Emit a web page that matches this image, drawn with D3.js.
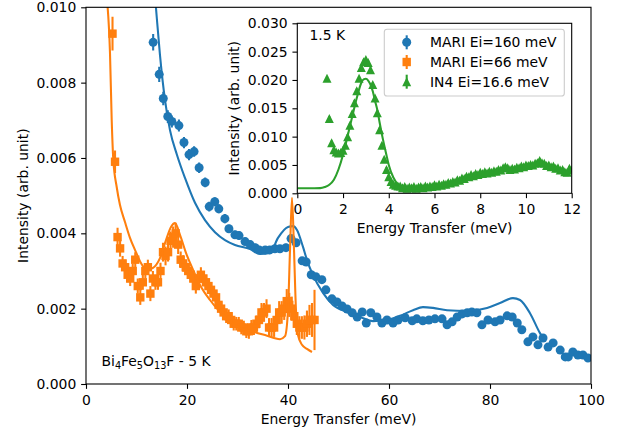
<!DOCTYPE html>
<html><head><meta charset="utf-8">
<script src="https://cdn.jsdelivr.net/npm/d3@7"></script>
<style>body{margin:0;background:#fff;} svg text{font-family:"DejaVu Sans",sans-serif;}</style>
</head><body><svg id="c" width="621" height="433"></svg>
<script>
// ---------------- DATA ----------------
const mainXTicks = [0, 20, 40, 60, 80, 100];
const mainYTicks = [0, 0.002, 0.004, 0.006, 0.008, 0.010];
const insetXTicks = [0, 2, 4, 6, 8, 10, 12];
const insetYTicks = [0, 0.005, 0.010, 0.015, 0.020, 0.025, 0.030];
const legendLabels = ["MARI Ei=160 meV", "MARI Ei=66 meV", "IN4 Ei=16.6 meV"];

const blueE = [13.3,14.5,15.3,16.2,17.0,18.4,19.4,20.4,21.4,22.4,
23.6,24.4,25.5,26.3,27.5,28.3,29.5,30.3,31.5,32.5,
33.5,34.3,35.5,36.4,37.4,38.4,39.6,40.6,41.6,42.8,
43.6,44.6,45.5,46.7,47.5,48.7,49.7,50.7,51.7,52.7,
53.7,54.7,55.5,56.4,57.6,58.6,59.6,60.8,61.8,63.2,
64.6,65.5,66.7,67.9,69.1,70.5,71.5,72.5,73.5,74.5,
75.5,76.4,77.4,78.4,79.6,81.0,82.0,83.4,84.4,85.4,
86.3,87.5,88.5,89.5,90.5,91.5,92.5,93.9,94.9,95.5,
96.4,97.4,98.4,99.4];
const blueI = [0.00907,0.00822,0.00758,0.00710,0.00697,0.00686,0.00641,0.00609,0.00617,0.00574,
0.00535,0.00471,0.00484,0.00465,0.00439,0.00412,0.00396,0.00394,0.00378,0.00370,
0.00362,0.00356,0.00356,0.00356,0.00359,0.00359,0.00362,0.00386,0.00375,0.00327,
0.00324,0.00290,0.00285,0.00277,0.00250,0.00226,0.00218,0.00207,0.00199,0.00189,
0.00178,0.00191,0.00162,0.00189,0.00178,0.00162,0.00170,0.00162,0.00170,0.00176,
0.00168,0.00173,0.00168,0.00170,0.00173,0.00173,0.00157,0.00165,0.00178,0.00186,
0.00189,0.00191,0.00189,0.00157,0.00170,0.00165,0.00170,0.00181,0.00178,0.00162,
0.00144,0.00112,0.00125,0.00104,0.00122,0.00098,0.00109,0.00090,0.00072,0.00072,
0.00085,0.00077,0.00077,0.00069];
const blueErr = [0.00022,0.00020,0.00018,0.00017,0.00016,0.00016,0.00015,0.00015,0.00014,0.00014,
0.00013,0.00013,0.00012,0.00012,0.00012,0.00011,0.00011,0.00011,0.00010,0.00010,
0.00010,0.00010,0.00010,0.00010,0.00010,0.00010,0.00010,0.00010,0.00010,0.00010,
0.00009,0.00009,0.00009,0.00009,0.00009,0.00009,0.00009,0.00009,0.00009,0.00009,
0.00009,0.00009,0.00009,0.00009,0.00009,0.00009,0.00009,0.00009,0.00009,0.00009,
0.00009,0.00009,0.00009,0.00009,0.00009,0.00009,0.00009,0.00009,0.00009,0.00009,
0.00009,0.00009,0.00009,0.00009,0.00009,0.00009,0.00009,0.00009,0.00009,0.00009,
0.00009,0.00009,0.00009,0.00009,0.00009,0.00009,0.00009,0.00009,0.00009,0.00009,
0.00009,0.00009,0.00009,0.00009];
const blueFitE = [13.1,13.86,14.65,15.64,16.63,18.02,19.6,21.58,23.56,25.54,27.52,29.5,32.48,34.46,36.44,38.02,40.0,40.99,41.78,42.97,43.76,44.95,46.93,48.91,51.68,54.26,56.83,59.6,62.18,64.75,66.73,68.71,71.49,75.45,79.41,81.98,84.55,85.94,87.92,89.9,90.5];
const blueFitI = [0.0112,0.00998,0.00873,0.00754,0.00674,0.00608,0.00547,0.00481,0.00435,0.00403,0.00382,0.00369,0.00358,0.00345,0.00348,0.00388,0.00417,0.00419,0.00409,0.00364,0.00329,0.00289,0.00242,0.00210,0.00191,0.00178,0.00167,0.00170,0.00181,0.00196,0.00204,0.00202,0.00196,0.00194,0.00202,0.00215,0.00228,0.00223,0.00188,0.00135,0.00122];

const orangeE = [5.25,5.75,6.25,6.75,7.25,7.75,8.25,8.75,9.25,9.75,
10.25,10.75,11.25,11.75,12.25,12.75,13.25,13.75,14.25,14.75,
15.25,15.75,16.25,16.75,17.25,17.75,18.25,18.75,19.25,19.75,
20.25,20.75,21.25,21.75,22.25,22.75,23.25,23.75,24.25,24.75,
25.25,25.75,26.25,26.75,27.25,27.75,28.25,28.75,29.25,29.75,
30.25,30.75,31.25,31.75,32.25,32.75,33.25,33.75,34.25,34.75,
35.25,35.75,36.25,36.75,37.25,37.75,38.25,38.75,39.25,39.75,
40.25,40.75,41.25,41.75,42.25,42.75,43.25,43.75,44.25,44.75,
45.25];
const orangeI = [0.0093,0.0059,0.0039,0.0036,0.0032,0.0031,0.0029,0.0028,0.0030,0.0033,
0.0026,0.0023,0.0027,0.0030,0.0031,0.0024,0.0028,0.0027,0.0027,0.0030,
0.0035,0.0034,0.0035,0.0038,0.0039,0.0040,0.0037,0.0033,0.0032,0.0031,
0.0030,0.0029,0.0028,0.0026,0.0028,0.0029,0.0028,0.0027,0.0026,0.0025,
0.0024,0.0023,0.0021,0.0020,0.0019,0.0018,0.0018,0.0017,0.0016,0.0016,
0.0016,0.0015,0.0015,0.0014,0.0014,0.0015,0.0015,0.0016,0.0017,0.0019,
0.0019,0.0020,0.0015,0.0015,0.0015,0.0017,0.0019,0.0019,0.0020,0.0022,
0.0021,0.0020,0.0018,0.0016,0.0015,0.0015,0.0015,0.0016,0.0017,0.0017,
0.0017];
const orangeErr = [0.00045,0.00030,0.00025,0.00022,0.00020,0.00020,0.00020,0.00020,0.00020,0.00020,
0.00020,0.00020,0.00020,0.00020,0.00020,0.00020,0.00020,0.00020,0.00020,0.00022,
0.00025,0.00025,0.00025,0.00025,0.00028,0.00028,0.00025,0.00022,0.00022,0.00020,
0.00020,0.00020,0.00020,0.00020,0.00020,0.00020,0.00020,0.00020,0.00020,0.00018,
0.00018,0.00018,0.00018,0.00018,0.00018,0.00018,0.00018,0.00018,0.00018,0.00018,
0.00018,0.00018,0.00018,0.00018,0.00020,0.00020,0.00020,0.00022,0.00022,0.00025,
0.00025,0.00025,0.00025,0.00025,0.00025,0.00028,0.00030,0.00030,0.00030,0.00032,
0.00032,0.00032,0.00030,0.00030,0.00030,0.00030,0.00032,0.00035,0.00040,0.00045,
0.00080];
const orangeFitE = [4.16,4.75,5.09,5.41,6.08,6.73,7.72,8.71,9.7,10.89,12.08,13.27,14.65,15.84,16.83,17.62,18.61,19.8,21.19,22.57,24.55,26.53,28.51,30.5,32.48,34.06,35.45,38.42,39.41,40.0,40.4,40.79,41.19,41.58,41.98,42.77,43.76,44.75];
const orangeFitI = [0.0102,0.00879,0.00701,0.00595,0.00523,0.00475,0.0043,0.00388,0.00356,0.00321,0.00303,0.00308,0.00334,0.00382,0.00417,0.00427,0.00396,0.00348,0.00303,0.00263,0.00223,0.00191,0.00165,0.00149,0.00141,0.00135,0.0013,0.00119,0.00127,0.00196,0.00356,0.00494,0.00356,0.00196,0.0013,0.00104,0.00093,0.00085];

const greenE = [1.3,1.4,1.5,1.6,1.7,1.8,1.9,2.0,2.1,2.2,
2.3,2.4,2.5,2.6,2.7,2.8,2.9,3.0,3.1,3.2,
3.3,3.4,3.5,3.6,3.7,3.8,3.9,4.0,4.1,4.2,
4.3,4.4,4.5,4.6,4.7,4.8,4.9,5.0,5.1,5.2,
5.3,5.4,5.5,5.6,5.7,5.8,5.9,6.0,6.1,6.2,
6.3,6.4,6.5,6.6,6.7,6.8,6.9,7.0,7.1,7.2,
7.3,7.4,7.5,7.6,7.7,7.8,7.9,8.0,8.1,8.2,
8.3,8.4,8.5,8.6,8.7,8.8,8.9,9.0,9.1,9.2,
9.3,9.4,9.5,9.6,9.7,9.8,9.9,10.0,10.1,10.2,
10.3,10.4,10.5,10.6,10.7,10.8,10.9,11.0,11.1,11.2,
11.3,11.4,11.5,11.6,11.7,11.8,11.9,12.0];
const greenI = [0.0203,0.0132,0.0089,0.0077,0.0073,0.0071,0.0072,0.0076,0.0085,0.0100,
0.0120,0.0141,0.0160,0.0181,0.0203,0.0222,0.0232,0.0236,0.0231,0.0218,
0.0192,0.0168,0.0142,0.0112,0.0085,0.0060,0.0042,0.0029,0.0021,0.0016,
0.0014,0.0013,0.0013,0.0010,0.0012,0.0009,0.0011,0.0010,0.0012,0.0009,
0.0011,0.0012,0.0010,0.0013,0.0011,0.0013,0.0012,0.0015,0.0013,0.0016,
0.0014,0.0017,0.0016,0.0019,0.0018,0.0021,0.0020,0.0024,0.0023,0.0027,
0.0026,0.0030,0.0029,0.0033,0.0031,0.0035,0.0033,0.0037,0.0035,0.0038,
0.0036,0.0039,0.0037,0.0040,0.0039,0.0042,0.0041,0.0045,0.0047,0.0045,
0.0042,0.0044,0.0043,0.0046,0.0045,0.0048,0.0047,0.0050,0.0049,0.0051,
0.0050,0.0053,0.0054,0.0058,0.0054,0.0053,0.0049,0.0050,0.0047,0.0048,
0.0044,0.0045,0.0041,0.0042,0.0038,0.0037,0.0044,0.0041];
const greenErr = [0.0004,0.0004,0.0004,0.0004,0.0004,0.0004,0.0004,0.0004,0.0004,0.0004,
0.0004,0.0004,0.0004,0.0004,0.0004,0.0004,0.0004,0.0004,0.0004,0.0004,
0.0004,0.0004,0.0004,0.0004,0.0004,0.0004,0.0004,0.0004,0.0004,0.0004,
0.0004,0.0004,0.0004,0.0004,0.0004,0.0004,0.0004,0.0004,0.0004,0.0004,
0.0004,0.0004,0.0004,0.0004,0.0004,0.0004,0.0004,0.0004,0.0004,0.0004,
0.0004,0.0004,0.0004,0.0004,0.0004,0.0004,0.0004,0.0004,0.0004,0.0004,
0.0004,0.0004,0.0004,0.0004,0.0004,0.0004,0.0004,0.0004,0.0004,0.0004,
0.0004,0.0004,0.0004,0.0004,0.0004,0.0004,0.0004,0.0004,0.0004,0.0004,
0.0004,0.0004,0.0004,0.0004,0.0004,0.0004,0.0004,0.0004,0.0004,0.0004,
0.0004,0.0004,0.0004,0.0004,0.0004,0.0004,0.0004,0.0004,0.0004,0.0004,
0.0004,0.0004,0.0004,0.0004,0.0004,0.0004,0.0004,0.0004];
const greenFitE = [0,0.5,1.0,1.2,1.4,1.6,1.8,2.0,2.2,2.4,2.6,2.8,2.9,3.0,3.1,3.2,3.3,3.4,3.5,3.6,3.7,3.8,3.9,4.0,4.2,4.4,4.6,5.0];
const greenFitI = [0.00088,0.00088,0.00092,0.0011,0.0015,0.0024,0.0042,0.0068,0.0101,0.0135,0.0168,0.0195,0.0201,0.0202,0.0199,0.0192,0.0180,0.0163,0.0147,0.0125,0.0104,0.0085,0.0067,0.0050,0.0028,0.0016,0.0011,0.0009];

// ---------------- DRAWING ----------------
const C_BLUE = "#1f77b4", C_ORANGE = "#ff7f0e", C_GREEN = "#2ca02c";
const FS = 13.9, LW = 2.08, MS = 9, TICK = 4.86;
const svg = d3.select("#c");
svg.append("rect").attr("width", 621).attr("height", 433).attr("fill", "#fff");

const M = {l: 86, r: 591, t: 7.3, b: 384};
const I = {l: 297.3, r: 571.7, t: 23.3, b: 193.3};
const x = d3.scaleLinear().domain([0, 100]).range([M.l, M.r]);
const y = d3.scaleLinear().domain([0, 0.010]).range([M.b, M.t]);
const xi = d3.scaleLinear().domain([0, 12]).range([I.l, I.r]);
const yi = d3.scaleLinear().domain([0, 0.030]).range([I.b, I.t]);

const defs = svg.append("defs");
defs.append("clipPath").attr("id", "clipM").append("rect")
  .attr("x", M.l).attr("y", M.t).attr("width", M.r - M.l).attr("height", M.b - M.t);
defs.append("clipPath").attr("id", "clipI").append("rect")
  .attr("x", I.l).attr("y", I.t).attr("width", I.r - I.l).attr("height", I.b - I.t);

function series(g, E, V, Err, xs, ys, color, shape) {
  const idx = d3.range(E.length);
  g.selectAll(null).data(idx).join("line")
    .attr("x1", i => xs(E[i])).attr("x2", i => xs(E[i]))
    .attr("y1", i => ys(V[i] - Err[i])).attr("y2", i => ys(V[i] + Err[i]))
    .attr("stroke", color).attr("stroke-width", LW);
  const h = MS / 2;
  if (shape === "circle") {
    g.selectAll(null).data(idx).join("circle")
      .attr("cx", i => xs(E[i])).attr("cy", i => ys(V[i])).attr("r", h).attr("fill", color);
  } else if (shape === "square") {
    const s = MS - 0.6, hs = s / 2;
    g.selectAll(null).data(idx).join("rect")
      .attr("x", i => xs(E[i]) - hs).attr("y", i => ys(V[i]) - hs)
      .attr("width", s).attr("height", s).attr("fill", color);
  } else {
    g.selectAll(null).data(idx).join("path")
      .attr("d", i => { const cx = xs(E[i]), cy = ys(V[i]);
        return `M${cx},${cy - h}L${cx - h},${cy + h}L${cx + h},${cy + h}Z`; })
      .attr("fill", color);
  }
}
function fitLine(g, E, V, xs, ys, color) {
  const line = d3.line().x(d => xs(d[0])).y(d => ys(d[1])).curve(d3.curveMonotoneX);
  g.append("path").attr("d", line(E.map((e, i) => [e, V[i]])))
    .attr("fill", "none").attr("stroke", color).attr("stroke-width", LW)
    .attr("stroke-linejoin", "round");
}
function axes(g, xs, ys, xt, yt, box, xfmt, yfmt) {
  const ax = g.append("g").attr("transform", `translate(0,${box.b})`)
    .call(d3.axisBottom(xs).tickValues(xt).tickFormat(xfmt).tickSizeInner(TICK).tickSizeOuter(0).tickPadding(6.3));
  const ay = g.append("g").attr("transform", `translate(${box.l},0)`)
    .call(d3.axisLeft(ys).tickValues(yt).tickFormat(yfmt).tickSizeInner(TICK).tickSizeOuter(0).tickPadding(TICK));
  [ax, ay].forEach(a => {
    a.select(".domain").remove();
    a.selectAll(".tick line").attr("stroke", "#000").attr("stroke-width", 1.1);
    a.selectAll(".tick text").attr("fill", "#000").style("font-size", FS + "px")
      .style("font-family", "DejaVu Sans");
  });
  g.append("rect").attr("x", box.l).attr("y", box.t).attr("width", box.r - box.l)
    .attr("height", box.b - box.t).attr("fill", "none").attr("stroke", "#000").attr("stroke-width", 1.1);
}

// main axes
const gm = svg.append("g");
const dm = gm.append("g").attr("clip-path", "url(#clipM)");
series(dm.append("g"), blueE, blueI, blueErr, x, y, C_BLUE, "circle");
series(dm.append("g"), orangeE, orangeI, orangeErr, x, y, C_ORANGE, "square");
fitLine(dm, blueFitE, blueFitI, x, y, C_BLUE);
fitLine(dm, orangeFitE, orangeFitI, x, y, C_ORANGE);
axes(gm, x, y, mainXTicks, mainYTicks, M, d3.format("d"), d3.format(".3f"));

gm.append("text").attr("x", (M.l + M.r) / 2).attr("y", 424).attr("text-anchor", "middle")
  .style("font-size", FS + "px").text("Energy Transfer (meV)");
gm.append("text").attr("transform", `translate(28,${(M.t + M.b) / 2}) rotate(-90)`)
  .attr("text-anchor", "middle").style("font-size", FS + "px").text("Intensity (arb. unit)");

const formula = gm.append("text").attr("x", 101.5).attr("y", 366).style("font-size", FS + "px");
[["Bi", 0], ["4", 1], ["Fe", 0], ["5", 1], ["O", 0], ["13", 1], ["F - 5 K", 0]].forEach(([t, sub]) => {
  formula.append("tspan").text(t).attr("baseline-shift", sub ? "-3px" : null)
    .style("font-size", sub ? (FS * 0.7) + "px" : null);
});

// inset axes
const gi = svg.append("g");
gi.append("rect").attr("x", I.l).attr("y", I.t).attr("width", I.r - I.l).attr("height", I.b - I.t).attr("fill", "#fff");
const di = gi.append("g").attr("clip-path", "url(#clipI)");
series(di.append("g"), greenE, greenI, greenErr, xi, yi, C_GREEN, "triangle");
fitLine(di, greenFitE, greenFitI, xi, yi, C_GREEN);
axes(gi, xi, yi, insetXTicks, insetYTicks, I, d3.format("d"), d3.format(".3f"));

gi.append("text").attr("x", (I.l + I.r) / 2).attr("y", 233.3).attr("text-anchor", "middle")
  .style("font-size", FS + "px").text("Energy Transfer (meV)");
gi.append("text").attr("transform", `translate(238.5,${(I.t + I.b) / 2}) rotate(-90)`)
  .attr("text-anchor", "middle").style("font-size", FS + "px").text("Intensity (arb. unit)");
gi.append("text").attr("x", 309.5).attr("y", 39.5).style("font-size", FS + "px").text("1.5 K");

// legend
const lg = gi.append("g");
lg.append("rect").attr("x", 384.3).attr("y", 29.3).attr("width", 180).attr("height", 66.7)
  .attr("rx", 2.8).attr("fill", "#fff").attr("fill-opacity", 0.8)
  .attr("stroke", "#cccccc").attr("stroke-width", 1.1);
const rowsY = [42.3, 62.0, 81.7];
const legColors = [C_BLUE, C_ORANGE, C_GREEN];
const legShapes = ["circle", "square", "triangle"];
legendLabels.forEach((lab, k) => {
  const cx = 406.7, cy = rowsY[k], h = MS / 2;
  lg.append("line").attr("x1", cx).attr("x2", cx).attr("y1", cy - 7).attr("y2", cy + 7)
    .attr("stroke", legColors[k]).attr("stroke-width", LW);
  if (legShapes[k] === "circle") lg.append("circle").attr("cx", cx).attr("cy", cy).attr("r", h).attr("fill", legColors[k]);
  else if (legShapes[k] === "square") lg.append("rect").attr("x", cx - h + 0.3).attr("y", cy - h + 0.3).attr("width", MS - 0.6).attr("height", MS - 0.6).attr("fill", legColors[k]);
  else lg.append("path").attr("d", `M${cx},${cy - h}L${cx - h},${cy + h}L${cx + h},${cy + h}Z`).attr("fill", legColors[k]);
  lg.append("text").attr("x", 430).attr("y", cy + 5).style("font-size", FS + "px").text(lab);
});
</script>
</body></html>
